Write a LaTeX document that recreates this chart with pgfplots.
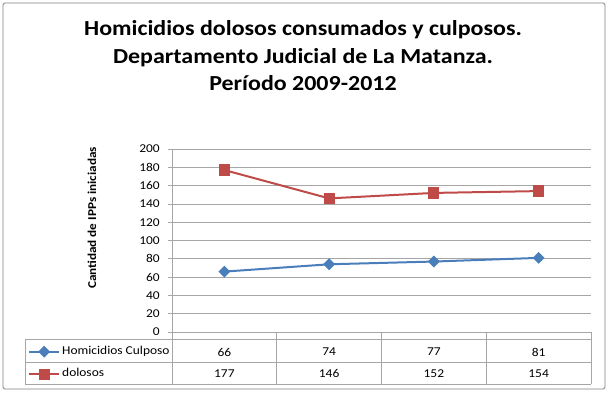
\documentclass[border=0pt]{standalone}
\usepackage{fontspec}
\setmainfont{Carlito}[FakeStretch=1.12]
\newfontfamily\ylfont{Carlito}[FakeStretch=1.1]
\usepackage{pgfplots}
\pgfplotsset{compat=1.18}
\definecolor{cblue}{HTML}{4A7EBB}
\definecolor{cred}{HTML}{BE4B48}
\definecolor{gline}{HTML}{A6A6A6}
\begin{document}
\begin{tikzpicture}[x=1pt,y=1pt]
\useasboundingbox (0,0) rectangle (609,393);
\draw[color=black!50, line width=0.8pt, rounded corners=1.5pt] (3,4) rectangle (605,390);
% title
\node[anchor=base, font=\bfseries\fontsize{21.4}{24}\selectfont] at (303,357) {Homicidios dolosos consumados y culposos.};
\node[anchor=base, font=\bfseries\fontsize{21.4}{24}\selectfont] at (303,329) {Departamento Judicial de La Matanza.};
\node[anchor=base, font=\bfseries\fontsize{21.4}{24}\selectfont] at (303,302) {Período 2009-2012};
\begin{axis}[
  at={(172pt,61pt)}, anchor=south west,
  scale only axis, width=419pt, height=183pt,
  xmin=0.5, xmax=4.5, ymin=0, ymax=200,
  ytick={0,20,...,200}, xtick=\empty,
  ymajorgrids, grid style={gline, line width=0.6pt},
  axis y line*=left, axis x line*=bottom,
  axis line style={gline, line width=0.6pt, -},
  tick style={gline, line width=0.6pt},
  major tick length=4pt, tick align=outside,
  /pgf/number format/assume math mode=true,
  yticklabel style={font=\fontsize{12}{14}\selectfont, inner sep=0pt, xshift=-8pt},
  clip=false,
  legend style={at={(rel axis cs:0,0)}, anchor=north west, xshift=-144pt, yshift=-14pt,
    draw=none, fill=none, inner sep=0pt, row sep=11.5pt, column sep=2pt,
    font=\fontsize{12}{14}\selectfont,
    nodes={inner sep=0pt, text height=8pt, text depth=3pt}},
  legend cell align=left,
  legend image code/.code={\draw[mark repeat=2,mark phase=2,#1] plot coordinates {(0pt,0pt) (15pt,0pt) (30pt,0pt)};},
]
\addplot[cblue, line width=2pt, mark=square*, mark size=3.2pt, mark options={rotate=45, solid}]
  coordinates {(1,66) (2,74) (3,77) (4,81)};
\addlegendentry{Homicidios Culposo}
\addplot[cred, line width=2pt, mark=square*, mark size=4.6pt, mark options={solid}]
  coordinates {(1,177) (2,146) (3,152) (4,154)};
\addlegendentry{dolosos}
\foreach \xx/\v in {1/66,2/74,3/77,4/81} {
  \edef\tmp{\noexpand\node[font=\noexpand\fontsize{12}{14}\noexpand\selectfont] at (axis cs:\xx,-22) {\v};}\tmp
}
\foreach \xx/\v in {1/177,2/146,3/152,4/154} {
  \edef\tmp{\noexpand\node[font=\noexpand\fontsize{12}{14}\noexpand\selectfont] at (axis cs:\xx,-45.5) {\v};}\tmp
}
\end{axis}
% data table grid
\begin{scope}[gline, line width=0.6pt]
\draw (25,54) -- (591,54);
\draw (25,31) -- (591,31);
\draw (25,9) -- (591,9);
\draw (25,9) -- (25,54);
\foreach \xx in {172,276.75,381.5,486.25,591} {\draw (\xx,9) -- (\xx,61);}
\end{scope}
% y label
\node[rotate=90, font=\ylfont\bfseries\fontsize{12}{14}\selectfont] at (92,175) {Cantidad de IPPs iniciadas};
\end{tikzpicture}
\end{document}
